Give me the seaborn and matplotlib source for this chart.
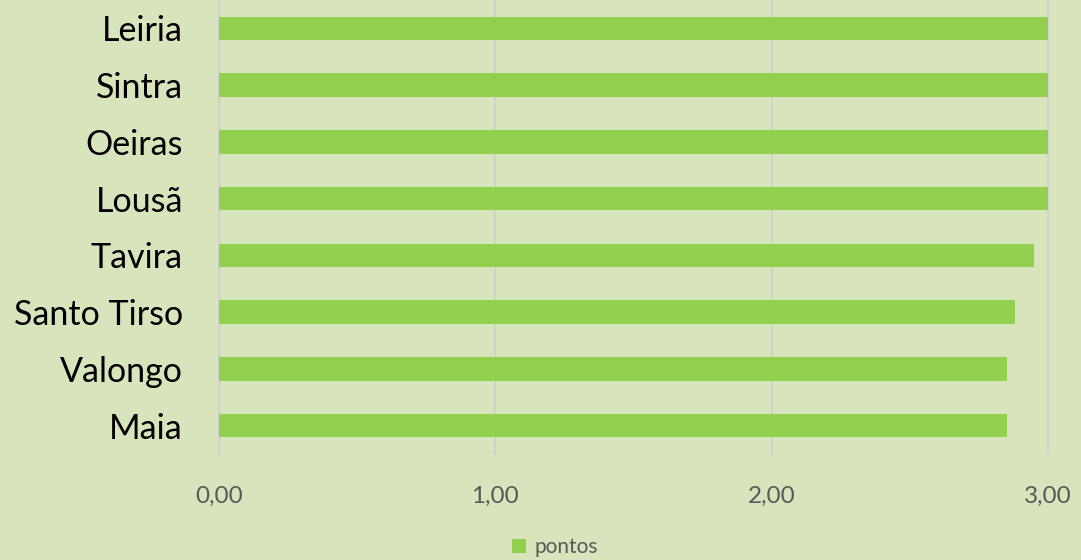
import matplotlib
matplotlib.use("Agg")
import matplotlib.pyplot as plt
import seaborn as sns
import pandas as pd
from matplotlib.patches import Patch
from matplotlib.ticker import FuncFormatter

categories = ["Leiria", "Sintra", "Oeiras", "Lousã", "Tavira", "Santo Tirso", "Valongo", "Maia"]
values = [3.00, 3.00, 3.00, 3.00, 2.95, 2.88, 2.85, 2.85]
series_name = "pontos"
xticks = [0, 1, 2, 3]

bg = "#D8E4BC"
bar_color = "#92D050"

sns.set_style("white")
plt.rcParams['font.family'] = ['Lato', 'DejaVu Sans']

df = pd.DataFrame({"cat": categories, "val": values})

fig = plt.figure(figsize=(10.81, 5.6), dpi=100, facecolor=bg)
ax = fig.add_axes([219/1081, 1 - 454/560, (1048-219)/1081, 454/560])
ax.set_facecolor(bg)

sns.barplot(data=df, x="val", y="cat", orient="h", color=bar_color, width=0.41,
            saturation=1, ax=ax, zorder=3, linewidth=0, edgecolor="none")

ax.set_xlim(0, 3)
ax.set_xticks(xticks)
ax.xaxis.set_major_formatter(FuncFormatter(lambda v, p: f"{v:.2f}".replace(".", ",")))
ax.grid(axis="x", color="#D0D0D0", linewidth=1.3, zorder=0)
ax.grid(axis="y", visible=False)
for g in ax.get_xgridlines():
    g.set_clip_on(False)
for s in ax.spines.values():
    s.set_visible(False)
ax.tick_params(axis="x", length=0, pad=23, labelsize=17.5, labelcolor="#595959")
ax.tick_params(axis="y", length=0, pad=26, labelsize=24.5, labelcolor="#000000")
ax.set_xlabel("")
ax.set_ylabel("")

fig.legend(handles=[Patch(facecolor=bar_color, edgecolor="none", label=series_name)],
           loc="center", bbox_to_anchor=(555/1081, 1 - 547/560), frameon=False,
           fontsize=15, labelcolor="#595959", handlelength=0.65, handleheight=0.65,
           handletextpad=0.4)

fig.savefig("out.png", dpi=100, facecolor=bg)
